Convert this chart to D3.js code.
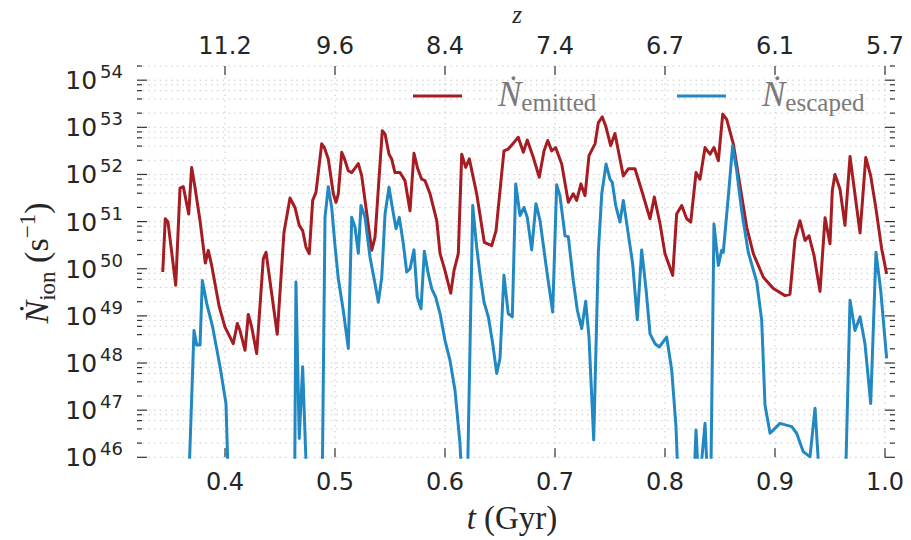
<!DOCTYPE html>
<html><head><meta charset="utf-8">
<script src="https://cdn.jsdelivr.net/npm/d3@7/dist/d3.min.js"></script>
<style>html,body{margin:0;padding:0;background:#fff;}</style>
</head><body>
<svg id="chart" width="911" height="540"></svg>
<script>
// ---- data (log10 of photon rate, s^-1) ----
const tEmitted = [0.3434,0.3457,0.3482,0.3552,0.3591,0.3621,0.3670,0.3697,0.3727,0.3773,0.3821,0.3848,0.3879,0.3948,0.4000,0.4075,0.4112,0.4136,0.4182,0.4212,0.4243,0.4288,0.4348,0.4373,0.4475,0.4536,0.4591,0.4636,0.4675,0.4706,0.4736,0.4766,0.4797,0.4827,0.4879,0.4903,0.4939,0.4985,0.5009,0.5030,0.5061,0.5082,0.5121,0.5152,0.5212,0.5243,0.5334,0.5364,0.5430,0.5455,0.5491,0.5515,0.5545,0.5591,0.5636,0.5682,0.5718,0.5752,0.5788,0.5818,0.5864,0.5925,0.5955,0.6000,0.6052,0.6082,0.6121,0.6152,0.6188,0.6221,0.6288,0.6357,0.6425,0.6464,0.6536,0.6575,0.6627,0.6666,0.6712,0.6748,0.6803,0.6857,0.6900,0.6934,0.6970,0.7006,0.7061,0.7121,0.7166,0.7197,0.7236,0.7273,0.7309,0.7364,0.7394,0.7430,0.7461,0.7506,0.7545,0.7621,0.7666,0.7727,0.7788,0.7864,0.7903,0.7955,0.8000,0.8070,0.8106,0.8152,0.8197,0.8234,0.8282,0.8318,0.8364,0.8409,0.8445,0.8485,0.8525,0.8561,0.8621,0.8682,0.8743,0.8803,0.8894,0.8985,0.9091,0.9136,0.9182,0.9227,0.9273,0.9309,0.9355,0.9409,0.9455,0.9500,0.9521,0.9545,0.9591,0.9636,0.9682,0.9773,0.9825,0.9870,0.9918,0.9970,1.0015];
const logEmitted = [49.93,51.06,50.99,49.65,51.71,51.74,51.16,52.15,51.73,51.02,50.12,50.39,50.07,49.19,48.76,48.41,48.84,48.69,48.27,49.03,48.76,48.20,50.21,50.35,48.61,50.77,51.50,51.30,50.92,50.81,50.46,50.32,51.45,51.62,52.65,52.57,52.33,51.59,51.41,51.59,52.47,52.36,52.08,52.04,52.23,51.97,50.39,50.67,52.93,52.86,52.43,52.33,52.04,52.04,51.87,51.23,52.45,52.12,51.90,51.87,51.59,51.02,50.32,49.96,49.48,49.96,50.32,52.43,52.15,52.33,51.59,50.56,50.49,50.81,52.50,52.54,52.68,52.79,52.47,52.73,52.36,51.94,52.50,52.72,52.50,52.57,52.22,51.41,51.59,51.45,51.80,51.55,52.40,52.65,53.10,53.22,53.03,52.61,52.87,51.97,52.12,52.12,51.66,51.06,51.52,50.95,50.32,49.86,51.16,51.34,51.06,50.99,52.04,51.90,52.57,52.43,52.57,52.29,53.28,53.17,52.65,51.76,50.88,50.32,49.82,49.58,49.43,49.46,50.63,51.02,50.60,50.70,50.28,49.52,51.08,50.53,51.66,52.00,51.69,50.92,52.38,50.76,52.36,51.97,51.27,50.42,49.89];

const tEscaped = [0.3664,0.3718,0.3743,0.3773,0.3794,0.3834,0.3888,0.3955,0.4009,0.4036,0.4632,0.4645,0.4675,0.4706,0.4750,0.4882,0.4909,0.4939,0.4970,0.5000,0.5030,0.5075,0.5121,0.5152,0.5182,0.5212,0.5236,0.5273,0.5318,0.5364,0.5394,0.5425,0.5455,0.5491,0.5521,0.5555,0.5585,0.5621,0.5652,0.5682,0.5718,0.5748,0.5782,0.5812,0.5848,0.5879,0.5915,0.5955,0.6000,0.6045,0.6091,0.6136,0.6164,0.6200,0.6252,0.6288,0.6318,0.6355,0.6394,0.6434,0.6470,0.6500,0.6536,0.6575,0.6612,0.6643,0.6682,0.6718,0.6748,0.6788,0.6827,0.6864,0.6925,0.6979,0.7015,0.7045,0.7091,0.7121,0.7166,0.7203,0.7243,0.7279,0.7309,0.7352,0.7394,0.7425,0.7464,0.7500,0.7521,0.7552,0.7591,0.7621,0.7666,0.7706,0.7748,0.7788,0.7827,0.7864,0.7909,0.7948,0.8015,0.8061,0.8100,0.8127,0.8255,0.8282,0.8309,0.8364,0.8395,0.8414,0.8445,0.8485,0.8515,0.8530,0.8575,0.8615,0.8652,0.8697,0.8757,0.8834,0.8879,0.8909,0.8955,0.9045,0.9152,0.9197,0.9257,0.9318,0.9364,0.9418,0.9636,0.9682,0.9727,0.9773,0.9818,0.9870,0.9918,0.9961,1.0015];
const logEscaped = [45.0,48.69,48.38,48.38,49.75,49.26,48.76,47.92,47.14,45.0,45.0,49.72,46.40,47.92,45.0,45.0,51.09,51.74,51.30,50.49,49.79,49.12,48.31,51.09,50.88,50.33,51.34,51.09,50.25,49.68,49.29,49.82,51.16,51.73,51.30,50.85,51.09,50.53,49.93,50.00,50.40,49.40,49.15,50.37,49.89,49.58,49.40,49.05,48.48,48.06,47.42,46.30,45.0,45.0,51.34,50.46,49.89,49.29,48.98,48.41,47.78,48.10,49.86,49.05,48.98,51.80,51.13,51.30,51.09,50.40,51.38,51.02,49.96,49.08,51.78,51.55,50.70,50.68,49.75,49.12,48.73,49.31,48.55,46.37,50.35,51.59,52.22,51.90,51.83,51.34,50.99,51.45,50.74,50.11,48.92,50.40,49.58,48.62,48.41,48.34,48.55,47.85,46.65,45.0,45.0,46.58,45.3,46.72,45.0,45.0,50.95,50.07,50.39,50.35,51.52,52.61,52.08,51.23,50.35,49.72,48.91,47.11,46.51,46.72,46.65,46.51,46.12,46.01,47.04,45.0,45.0,49.33,48.69,48.98,48.41,47.14,50.35,49.54,48.10];

const xTicks = [0.4,0.5,0.6,0.7,0.8,0.9,1.0];
const xTickLabels = ["0.4","0.5","0.6","0.7","0.8","0.9","1.0"];
const zTickLabels = ["11.2","9.6","8.4","7.4","6.7","6.1","5.7"];
const yExponents = [46,47,48,49,50,51,52,53,54];
const minorSubs = [2,4,6,8];

// ---- layout ----
const L = 137, R = 895, T = 66, B = 457.3;
const svg = d3.select("#chart");
const x = d3.scaleLinear().domain([0.32, 1.00909]).range([L, R]);
const y = d3.scaleLog().domain([1e46, 2e54]).range([B, T]);

const red = "#a51c22", blue = "#2188c2";
const gridCol = "#c9c9c9", tickCol = "#333";

// grid
const majorY = yExponents.map(e => Math.pow(10, e));
const minorY = [];
yExponents.forEach(e => minorSubs.forEach(s => { const v = s * Math.pow(10, e); if (v <= 2.0001e54) minorY.push(v); }));
const grid = svg.append("g");
grid.selectAll("line.hy").data(majorY.concat(minorY)).enter().append("line")
  .attr("x1", L).attr("x2", R).attr("y1", d => y(d)).attr("y2", d => y(d))
  .attr("stroke", gridCol).attr("stroke-width", 1).attr("stroke-dasharray", "1.5,4.2");
grid.selectAll("line.vx").data(xTicks).enter().append("line")
  .attr("x1", d => x(d)).attr("x2", d => x(d)).attr("y1", T).attr("y2", B)
  .attr("stroke", gridCol).attr("stroke-width", 1).attr("stroke-dasharray", "1.5,4.2");

// ticks (inward)
const tk = svg.append("g").attr("stroke", tickCol).attr("stroke-width", 1.2);
majorY.forEach(v => {
  tk.append("line").attr("x1", L).attr("x2", L + 10).attr("y1", y(v)).attr("y2", y(v));
  tk.append("line").attr("x1", R - 10).attr("x2", R).attr("y1", y(v)).attr("y2", y(v));
});
minorY.forEach(v => {
  tk.append("line").attr("x1", L).attr("x2", L + 5).attr("y1", y(v)).attr("y2", y(v));
  tk.append("line").attr("x1", R - 5).attr("x2", R).attr("y1", y(v)).attr("y2", y(v));
});
xTicks.forEach(v => {
  tk.append("line").attr("x1", x(v)).attr("x2", x(v)).attr("y1", B).attr("y2", B - 9);
  tk.append("line").attr("x1", x(v)).attr("x2", x(v)).attr("y1", T).attr("y2", T + 9);
});

// clip
svg.append("defs").append("clipPath").attr("id", "clip")
  .append("rect").attr("x", L).attr("y", T).attr("width", R - L).attr("height", B - T + 1.5);

const line = d3.line().x(d => x(d[0])).y(d => y(Math.pow(10, d[1])));
const plot = svg.append("g").attr("clip-path", "url(#clip)");
plot.append("path").datum(tEmitted.map((t, i) => [t, logEmitted[i]]))
  .attr("d", line).attr("fill", "none").attr("stroke", red).attr("stroke-width", 3).attr("stroke-linejoin", "round");
plot.append("path").datum(tEscaped.map((t, i) => [t, logEscaped[i]]))
  .attr("d", line).attr("fill", "none").attr("stroke", blue).attr("stroke-width", 3).attr("stroke-linejoin", "round");

// tick labels
const sans = "DejaVu Sans, sans-serif";
const serif = "Liberation Serif, DejaVu Serif, serif";
svg.append("g").selectAll("text").data(xTicks).enter().append("text")
  .attr("x", d => x(d)).attr("y", 490).attr("text-anchor", "middle")
  .attr("font-family", sans).attr("font-size", 24).attr("fill", "#262626")
  .text((d, i) => xTickLabels[i]);
svg.append("g").selectAll("text").data(xTicks).enter().append("text")
  .attr("x", d => x(d)).attr("y", 54).attr("text-anchor", "middle")
  .attr("font-family", sans).attr("font-size", 24).attr("fill", "#262626")
  .text((d, i) => zTickLabels[i]);
const yl = svg.append("g").selectAll("text").data(yExponents).enter().append("text")
  .attr("x", 123).attr("y", d => y(Math.pow(10, d)) + 9).attr("text-anchor", "end")
  .attr("font-family", sans).attr("font-size", 25).attr("fill", "#262626");
yl.append("tspan").text("10");
yl.append("tspan").attr("dx", 3).attr("dy", -11).attr("font-size", 18).text(d => d);

// axis labels
const xl = svg.append("text").attr("x", 512).attr("y", 529).attr("text-anchor", "middle")
  .attr("font-family", serif).attr("font-size", 33).attr("fill", "#262626");
xl.append("tspan").attr("font-style", "italic").text("t");
xl.append("tspan").text(" (Gyr)");

svg.append("text").attr("x", 517).attr("y", 23).attr("text-anchor", "middle")
  .attr("font-family", serif).attr("font-style", "italic").attr("font-size", 25).attr("fill", "#262626").text("z");

const ylab = svg.append("text").attr("transform", "translate(48,263) rotate(-90)")
  .attr("text-anchor", "middle").attr("font-family", serif).attr("font-size", 34).attr("fill", "#262626");
ylab.append("tspan").attr("font-style", "italic").text("\u1E44");
ylab.append("tspan").attr("dy", 7).attr("font-size", 23).text("ion");
ylab.append("tspan").attr("dy", -7).text(" (s");
ylab.append("tspan").attr("dy", -13).attr("font-size", 23).text("\u22121");
ylab.append("tspan").attr("dy", 13).text(")");

// legend
const legendNames = ["emitted", "escaped"];
const legendColors = [red, blue];
const legX = [413, 677];
legendNames.forEach((n, i) => {
  svg.append("line").attr("x1", legX[i]).attr("x2", legX[i] + 49).attr("y1", 96).attr("y2", 96)
    .attr("stroke", legendColors[i]).attr("stroke-width", 3);
  const tx = svg.append("text").attr("x", legX[i] + 85).attr("y", 106)
    .attr("font-family", serif).attr("font-size", 35).attr("fill", "#7a7a7a");
  tx.append("tspan").attr("font-style", "italic").text("\u1E44");
  tx.append("tspan").attr("dy", 5).attr("font-size", 25).text(n);
});
</script>
</body></html>
